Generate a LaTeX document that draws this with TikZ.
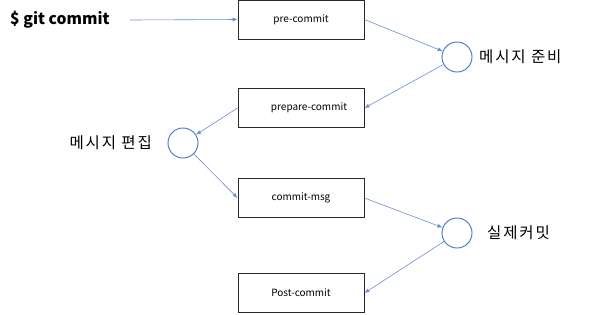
\documentclass[tikz,border=0pt]{standalone}
\usepackage{fontspec}
\setmainfont{Noto Sans CJK KR}
\newfontfamily\labelfont[LetterSpace=12]{Noto Sans CJK KR}
\usetikzlibrary{arrows.meta}
\definecolor{flow}{RGB}{68,114,196}
\definecolor{edge}{RGB}{40,40,40}
\tikzset{
  hookbox/.style={draw=edge, line width=0.9pt, minimum width=126pt, minimum height=39pt,
    inner sep=0pt, font=\fontsize{10}{12}\selectfont},
  stage/.style={circle, draw=flow, line width=0.9pt, minimum size=30pt, inner sep=0pt},
  stagetext/.style={anchor=west, inner sep=0pt, font=\labelfont\fontsize{15.5}{18}\selectfont},
  flowarrow/.style={draw=flow!80, line width=0.6pt, -{Latex[length=5pt,width=4pt]}}
}
\begin{document}
\begin{tikzpicture}[x=1pt, y=-1pt]
  \useasboundingbox (0,0) rectangle (601,314);

  % command that starts the chain
  \node[anchor=west, inner sep=0pt, font=\fontsize{15.7}{18}\selectfont\bfseries] (cmd) at (10,20) {\$ git commit};
  \coordinate (cmdout) at (130,20);

  % hook boxes
  \node[hookbox] (pre)  at (301,19.5) {pre-commit};
  \node[hookbox] (prep) at (301,108)  {\hspace*{16pt}prepare-commit};
  \node[hookbox] (msg)  at (301,198)  {commit-msg};
  \node[hookbox] (post) at (301,293)  {Post-commit};

  % intermediate stages
  \node[stage] (s1) at (457,57)  {};
  \node[stage] (s2) at (183,143) {};
  \node[stage] (s3) at (457,233) {};

  \node[stagetext] (l1) at (479,57)  {메시지 준비};
  \node[stagetext, anchor=east] (l2) at (152,143) {메시지 편집};
  \node[stagetext] (l3) at (487,233) {실제커밋};

  % flow
  \draw[flowarrow] (cmdout) -- (pre.west);
  \draw[flowarrow] (pre.east) -- (s1);
  \draw[flowarrow] (s1) -- (prep.east);
  \draw[flowarrow] (prep.west) -- (s2);
  \draw[flowarrow] (s2) -- (msg.west);
  \draw[flowarrow] (msg.east) -- (s3);
  \draw[flowarrow] (s3) -- (post.east);
\end{tikzpicture}
\end{document}
